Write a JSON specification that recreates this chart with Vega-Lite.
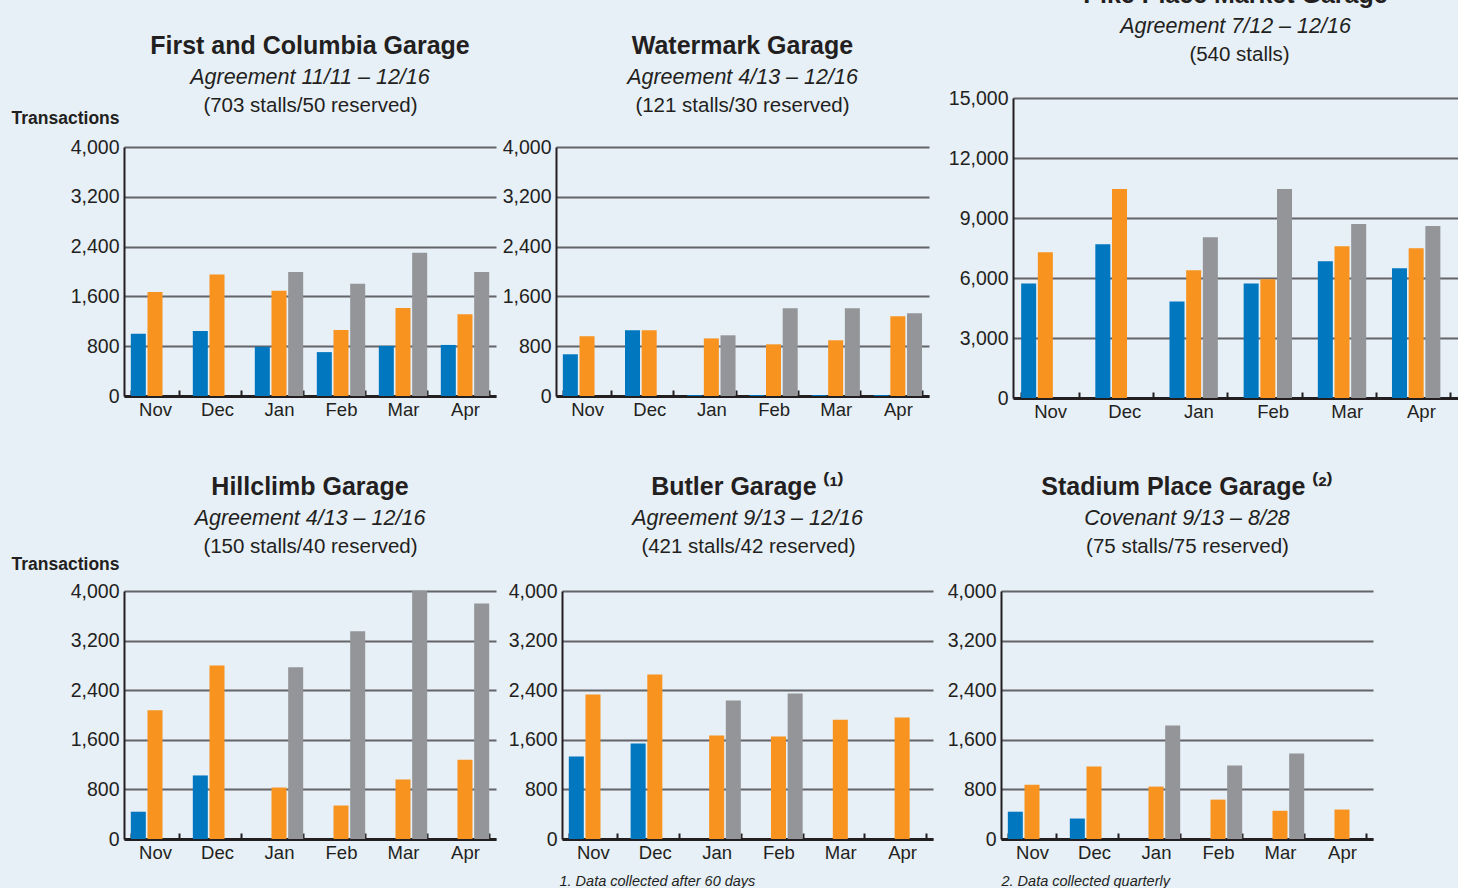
{
  "$schema": "https://vega.github.io/schema/vega-lite/v6.json",
  "padding": {"top": -18, "left": 0, "right": 0, "bottom": 0},
  "background": "#e7eff7",
  "data": {"values": [
    {"garage": "First and Columbia", "month": "Nov", "series": "Year 1", "value": 1000},
    {"garage": "First and Columbia", "month": "Nov", "series": "Year 2", "value": 1670},
    {"garage": "First and Columbia", "month": "Dec", "series": "Year 1", "value": 1045},
    {"garage": "First and Columbia", "month": "Dec", "series": "Year 2", "value": 1950},
    {"garage": "First and Columbia", "month": "Jan", "series": "Year 1", "value": 790},
    {"garage": "First and Columbia", "month": "Jan", "series": "Year 2", "value": 1690},
    {"garage": "First and Columbia", "month": "Jan", "series": "Year 3", "value": 1990},
    {"garage": "First and Columbia", "month": "Feb", "series": "Year 1", "value": 705},
    {"garage": "First and Columbia", "month": "Feb", "series": "Year 2", "value": 1060},
    {"garage": "First and Columbia", "month": "Feb", "series": "Year 3", "value": 1805},
    {"garage": "First and Columbia", "month": "Mar", "series": "Year 1", "value": 805},
    {"garage": "First and Columbia", "month": "Mar", "series": "Year 2", "value": 1415},
    {"garage": "First and Columbia", "month": "Mar", "series": "Year 3", "value": 2300},
    {"garage": "First and Columbia", "month": "Apr", "series": "Year 1", "value": 820},
    {"garage": "First and Columbia", "month": "Apr", "series": "Year 2", "value": 1315},
    {"garage": "First and Columbia", "month": "Apr", "series": "Year 3", "value": 1990},

    {"garage": "Watermark", "month": "Nov", "series": "Year 1", "value": 670},
    {"garage": "Watermark", "month": "Nov", "series": "Year 2", "value": 960},
    {"garage": "Watermark", "month": "Dec", "series": "Year 1", "value": 1055},
    {"garage": "Watermark", "month": "Dec", "series": "Year 2", "value": 1055},
    {"garage": "Watermark", "month": "Jan", "series": "Year 1", "value": 15},
    {"garage": "Watermark", "month": "Jan", "series": "Year 2", "value": 925},
    {"garage": "Watermark", "month": "Jan", "series": "Year 3", "value": 975},
    {"garage": "Watermark", "month": "Feb", "series": "Year 1", "value": 15},
    {"garage": "Watermark", "month": "Feb", "series": "Year 2", "value": 830},
    {"garage": "Watermark", "month": "Feb", "series": "Year 3", "value": 1410},
    {"garage": "Watermark", "month": "Mar", "series": "Year 1", "value": 15},
    {"garage": "Watermark", "month": "Mar", "series": "Year 2", "value": 895},
    {"garage": "Watermark", "month": "Mar", "series": "Year 3", "value": 1410},
    {"garage": "Watermark", "month": "Apr", "series": "Year 1", "value": 15},
    {"garage": "Watermark", "month": "Apr", "series": "Year 2", "value": 1280},
    {"garage": "Watermark", "month": "Apr", "series": "Year 3", "value": 1330},

    {"garage": "Pike Place Market", "month": "Nov", "series": "Year 1", "value": 5730},
    {"garage": "Pike Place Market", "month": "Nov", "series": "Year 2", "value": 7290},
    {"garage": "Pike Place Market", "month": "Dec", "series": "Year 1", "value": 7690},
    {"garage": "Pike Place Market", "month": "Dec", "series": "Year 2", "value": 10450},
    {"garage": "Pike Place Market", "month": "Jan", "series": "Year 1", "value": 4830},
    {"garage": "Pike Place Market", "month": "Jan", "series": "Year 2", "value": 6390},
    {"garage": "Pike Place Market", "month": "Jan", "series": "Year 3", "value": 8040},
    {"garage": "Pike Place Market", "month": "Feb", "series": "Year 1", "value": 5730},
    {"garage": "Pike Place Market", "month": "Feb", "series": "Year 2", "value": 5935},
    {"garage": "Pike Place Market", "month": "Feb", "series": "Year 3", "value": 10450},
    {"garage": "Pike Place Market", "month": "Mar", "series": "Year 1", "value": 6840},
    {"garage": "Pike Place Market", "month": "Mar", "series": "Year 2", "value": 7590},
    {"garage": "Pike Place Market", "month": "Mar", "series": "Year 3", "value": 8695},
    {"garage": "Pike Place Market", "month": "Apr", "series": "Year 1", "value": 6490},
    {"garage": "Pike Place Market", "month": "Apr", "series": "Year 2", "value": 7490},
    {"garage": "Pike Place Market", "month": "Apr", "series": "Year 3", "value": 8595},

    {"garage": "Hillclimb", "month": "Nov", "series": "Year 1", "value": 440},
    {"garage": "Hillclimb", "month": "Nov", "series": "Year 2", "value": 2075},
    {"garage": "Hillclimb", "month": "Dec", "series": "Year 1", "value": 1025},
    {"garage": "Hillclimb", "month": "Dec", "series": "Year 2", "value": 2800},
    {"garage": "Hillclimb", "month": "Jan", "series": "Year 2", "value": 830},
    {"garage": "Hillclimb", "month": "Jan", "series": "Year 3", "value": 2770},
    {"garage": "Hillclimb", "month": "Feb", "series": "Year 2", "value": 540},
    {"garage": "Hillclimb", "month": "Feb", "series": "Year 3", "value": 3350},
    {"garage": "Hillclimb", "month": "Mar", "series": "Year 2", "value": 960},
    {"garage": "Hillclimb", "month": "Mar", "series": "Year 3", "value": 4000},
    {"garage": "Hillclimb", "month": "Apr", "series": "Year 2", "value": 1280},
    {"garage": "Hillclimb", "month": "Apr", "series": "Year 3", "value": 3800},

    {"garage": "Butler", "month": "Nov", "series": "Year 1", "value": 1330},
    {"garage": "Butler", "month": "Nov", "series": "Year 2", "value": 2330},
    {"garage": "Butler", "month": "Dec", "series": "Year 1", "value": 1540},
    {"garage": "Butler", "month": "Dec", "series": "Year 2", "value": 2655},
    {"garage": "Butler", "month": "Jan", "series": "Year 2", "value": 1670},
    {"garage": "Butler", "month": "Jan", "series": "Year 3", "value": 2235},
    {"garage": "Butler", "month": "Feb", "series": "Year 2", "value": 1655},
    {"garage": "Butler", "month": "Feb", "series": "Year 3", "value": 2345},
    {"garage": "Butler", "month": "Mar", "series": "Year 2", "value": 1925},
    {"garage": "Butler", "month": "Apr", "series": "Year 2", "value": 1960},

    {"garage": "Stadium Place", "month": "Nov", "series": "Year 1", "value": 440},
    {"garage": "Stadium Place", "month": "Nov", "series": "Year 2", "value": 875},
    {"garage": "Stadium Place", "month": "Dec", "series": "Year 1", "value": 330},
    {"garage": "Stadium Place", "month": "Dec", "series": "Year 2", "value": 1170},
    {"garage": "Stadium Place", "month": "Jan", "series": "Year 2", "value": 845},
    {"garage": "Stadium Place", "month": "Jan", "series": "Year 3", "value": 1830},
    {"garage": "Stadium Place", "month": "Feb", "series": "Year 2", "value": 635},
    {"garage": "Stadium Place", "month": "Feb", "series": "Year 3", "value": 1185},
    {"garage": "Stadium Place", "month": "Mar", "series": "Year 2", "value": 455},
    {"garage": "Stadium Place", "month": "Mar", "series": "Year 3", "value": 1380},
    {"garage": "Stadium Place", "month": "Apr", "series": "Year 2", "value": 475}
  ]},
  "spacing": 53,
  "vconcat": [
    {
      "spacing": 0,
      "hconcat": [
        {
          "width": 372, "height": 298,
          "title": {"text": "First and Columbia Garage", "subtitle": "Agreement 11/11 – 12/16"},
          "transform": [{"filter": "datum.garage === 'First and Columbia'"}],
          "mark": "bar",
          "encoding": {
            "x": {"field": "month", "type": "nominal", "sort": ["Nov", "Dec", "Jan", "Feb", "Mar", "Apr"],
                  "scale": {"paddingInner": 0.22, "paddingOuter": 0.11},
                  "axis": {"title": "(703 stalls/50 reserved)", "titleX": 186, "titleY": -285}},
            "xOffset": {"field": "series", "type": "nominal", "scale": {"domain": ["Year 1", "Year 2", "Year 3"], "paddingInner": 0.1}},
            "y": {"field": "value", "type": "quantitative", "scale": {"domain": [0, 4000], "range": [298, 49], "nice": false},
                  "axis": {"values": [0, 800, 1600, 2400, 3200, 4000], "format": ",d", "minExtent": 124,
                           "title": "Transactions", "titleX": -5, "titleY": 25, "titleAlign": "right",
                           "titleFontWeight": "bold", "titleFontSize": 17.5}},
            "color": {"field": "series", "type": "nominal", "legend": null,
                      "scale": {"domain": ["Year 1", "Year 2", "Year 3"], "range": ["#0077bf", "#f7931e", "#939598"]}}
          }
        },
        {
          "width": 373, "height": 298,
          "title": {"text": "Watermark Garage", "subtitle": "Agreement 4/13 – 12/16"},
          "transform": [{"filter": "datum.garage === 'Watermark'"}],
          "mark": "bar",
          "encoding": {
            "x": {"field": "month", "type": "nominal", "sort": ["Nov", "Dec", "Jan", "Feb", "Mar", "Apr"],
                  "scale": {"paddingInner": 0.22, "paddingOuter": 0.11},
                  "axis": {"title": "(121 stalls/30 reserved)", "titleX": 186, "titleY": -285}},
            "xOffset": {"field": "series", "type": "nominal", "scale": {"domain": ["Year 1", "Year 2", "Year 3"], "paddingInner": 0.1}},
            "y": {"field": "value", "type": "quantitative", "scale": {"domain": [0, 4000], "range": [298, 49], "nice": false},
                  "axis": {"values": [0, 800, 1600, 2400, 3200, 4000], "format": ",d", "minExtent": 60, "title": null}},
            "color": {"field": "series", "type": "nominal", "legend": null,
                      "scale": {"domain": ["Year 1", "Year 2", "Year 3"], "range": ["#0077bf", "#f7931e", "#939598"]}}
          }
        },
        {
          "width": 445, "height": 300,
          "title": {"text": "Pike Place Market Garage", "subtitle": "Agreement 7/12 – 12/16"},
          "transform": [{"filter": "datum.garage === 'Pike Place Market'"}],
          "mark": "bar",
          "encoding": {
            "x": {"field": "month", "type": "nominal", "sort": ["Nov", "Dec", "Jan", "Feb", "Mar", "Apr"],
                  "scale": {"paddingInner": 0.22, "paddingOuter": 0.11},
                  "axis": {"title": "(540 stalls)", "titleX": 226, "titleY": -338}},
            "xOffset": {"field": "series", "type": "nominal", "scale": {"domain": ["Year 1", "Year 2", "Year 3"], "paddingInner": 0.1}},
            "y": {"field": "value", "type": "quantitative", "scale": {"domain": [0, 15000], "nice": false},
                  "axis": {"values": [0, 3000, 6000, 9000, 12000, 15000], "format": ",d", "minExtent": 84, "title": null}},
            "color": {"field": "series", "type": "nominal", "legend": null,
                      "scale": {"domain": ["Year 1", "Year 2", "Year 3"], "range": ["#0077bf", "#f7931e", "#939598"]}}
          }
        }
      ]
    },
    {
      "spacing": 0,
      "hconcat": [
        {
          "width": 372, "height": 248,
          "title": {"text": "Hillclimb Garage", "subtitle": "Agreement 4/13 – 12/16"},
          "transform": [{"filter": "datum.garage === 'Hillclimb'"}],
          "mark": "bar",
          "encoding": {
            "x": {"field": "month", "type": "nominal", "sort": ["Nov", "Dec", "Jan", "Feb", "Mar", "Apr"],
                  "scale": {"paddingInner": 0.22, "paddingOuter": 0.11},
                  "axis": {"title": "(150 stalls/40 reserved)", "titleX": 186, "titleY": -287}},
            "xOffset": {"field": "series", "type": "nominal", "scale": {"domain": ["Year 1", "Year 2", "Year 3"], "paddingInner": 0.1}},
            "y": {"field": "value", "type": "quantitative", "scale": {"domain": [0, 4000], "nice": false},
                  "axis": {"values": [0, 800, 1600, 2400, 3200, 4000], "format": ",d", "minExtent": 124,
                           "title": "Transactions", "titleX": -5, "titleY": -22, "titleAlign": "right",
                           "titleFontWeight": "bold", "titleFontSize": 17.5}},
            "color": {"field": "series", "type": "nominal", "legend": null,
                      "scale": {"domain": ["Year 1", "Year 2", "Year 3"], "range": ["#0077bf", "#f7931e", "#939598"]}}
          }
        },
        {
          "width": 371, "height": 248,
          "title": {"text": "Butler Garage ⁽¹⁾", "subtitle": "Agreement 9/13 – 12/16"},
          "transform": [{"filter": "datum.garage === 'Butler'"}],
          "mark": "bar",
          "encoding": {
            "x": {"field": "month", "type": "nominal", "sort": ["Nov", "Dec", "Jan", "Feb", "Mar", "Apr"],
                  "scale": {"paddingInner": 0.22, "paddingOuter": 0.11},
                  "axis": {"title": "1. Data collected after 60 days", "titleX": -3, "titleY": 46, "titleAlign": "left",
                           "titleFontStyle": "italic", "titleFontSize": 14.5}},
            "xOffset": {"field": "series", "type": "nominal", "scale": {"domain": ["Year 1", "Year 2", "Year 3"], "paddingInner": 0.1}},
            "y": {"field": "value", "type": "quantitative", "scale": {"domain": [0, 4000], "nice": false},
                  "axis": {"values": [0, 800, 1600, 2400, 3200, 4000], "format": ",d", "minExtent": 66,
                           "title": "(421 stalls/42 reserved)", "titleX": 186, "titleY": -39, "titleAlign": "center"}},
            "color": {"field": "series", "type": "nominal", "legend": null,
                      "scale": {"domain": ["Year 1", "Year 2", "Year 3"], "range": ["#0077bf", "#f7931e", "#939598"]}}
          }
        },
        {
          "width": 372, "height": 248,
          "title": {"text": "Stadium Place Garage ⁽²⁾", "subtitle": "Covenant 9/13 – 8/28"},
          "transform": [{"filter": "datum.garage === 'Stadium Place'"}],
          "mark": "bar",
          "encoding": {
            "x": {"field": "month", "type": "nominal", "sort": ["Nov", "Dec", "Jan", "Feb", "Mar", "Apr"],
                  "scale": {"paddingInner": 0.22, "paddingOuter": 0.11},
                  "axis": {"title": "2. Data collected quarterly", "titleX": 0, "titleY": 46, "titleAlign": "left",
                           "titleFontStyle": "italic", "titleFontSize": 14.5}},
            "xOffset": {"field": "series", "type": "nominal", "scale": {"domain": ["Year 1", "Year 2", "Year 3"], "paddingInner": 0.1}},
            "y": {"field": "value", "type": "quantitative", "scale": {"domain": [0, 4000], "nice": false},
                  "axis": {"values": [0, 800, 1600, 2400, 3200, 4000], "format": ",d", "minExtent": 68,
                           "title": "(75 stalls/75 reserved)", "titleX": 186, "titleY": -39, "titleAlign": "center"}},
            "color": {"field": "series", "type": "nominal", "legend": null,
                      "scale": {"domain": ["Year 1", "Year 2", "Year 3"], "range": ["#0077bf", "#f7931e", "#939598"]}}
          }
        }
      ]
    }
  ],
  "config": {
    "view": {"stroke": null},
    "font": "Liberation Sans",
    "axis": {
      "titleFont": "Liberation Sans", "titleFontSize": 20.5, "titleFontWeight": "normal",
      "titleColor": "#231f20", "titleBaseline": "alphabetic", "titleAngle": 0
    },
    "axisX": {
      "zindex": 1, "grid": false, "labelAngle": 0,
      "domainColor": "#231f20", "domainWidth": 3,
      "ticks": true, "tickBand": "extent", "tickSize": -6, "tickWidth": 2, "tickColor": "#231f20",
      "labelFont": "Liberation Sans", "labelFontSize": 18.5, "labelColor": "#231f20", "labelPadding": 10
    },
    "axisY": {
      "zindex": 0, "grid": true, "gridColor": "#646568", "gridWidth": 2,
      "domainColor": "#231f20", "domainWidth": 2, "ticks": false,
      "labelFont": "Liberation Sans", "labelFontSize": 19.5, "labelColor": "#231f20", "labelPadding": 5
    },
    "title": {
      "font": "Liberation Sans", "fontSize": 25, "fontWeight": "bold", "color": "#231f20",
      "subtitleFont": "Liberation Sans", "subtitleFontSize": 21.5, "subtitleFontStyle": "italic",
      "subtitleColor": "#231f20", "subtitlePadding": 8.4, "anchor": "middle", "frame": "group", "offset": 6.5
    }
  }
}
